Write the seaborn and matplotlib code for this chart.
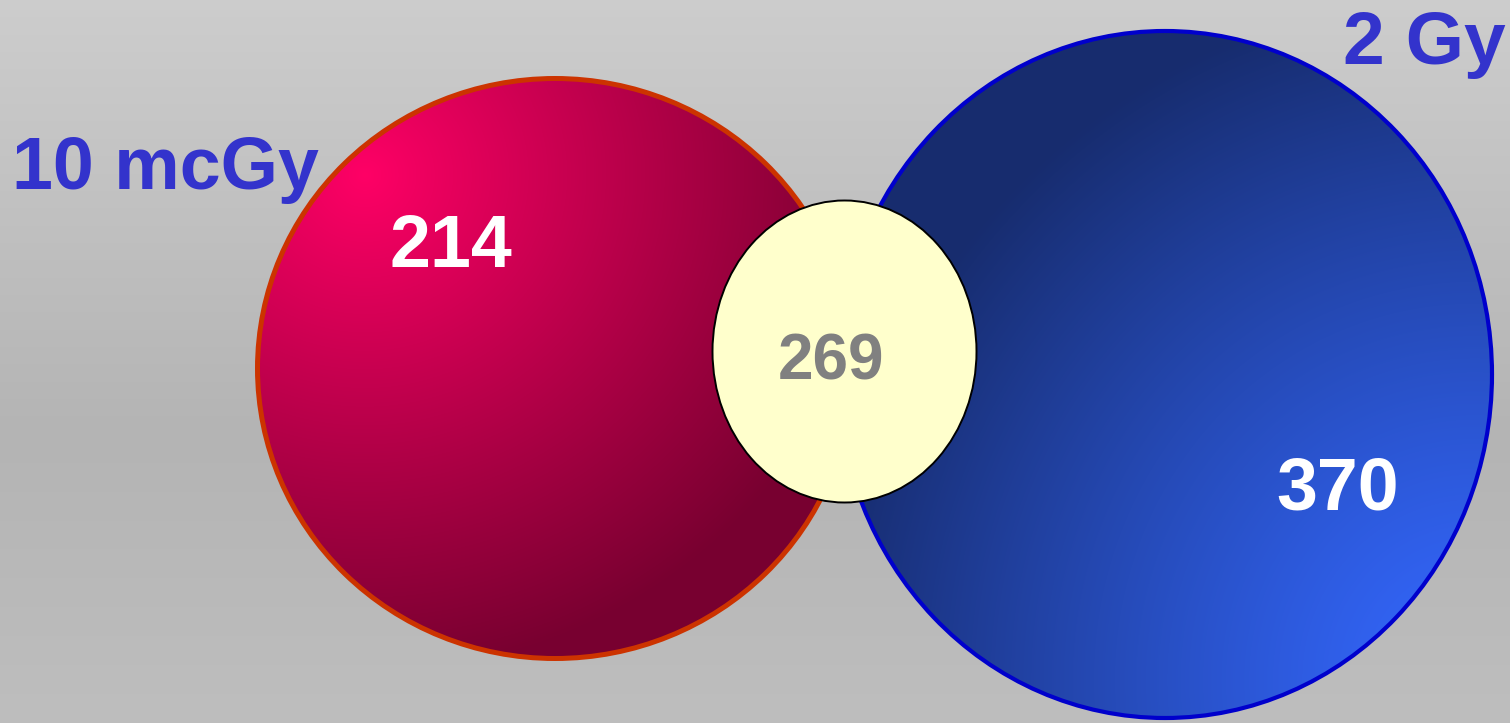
import numpy as np
import matplotlib
matplotlib.use("Agg")
import matplotlib.pyplot as plt
from matplotlib.patches import Ellipse
from matplotlib.colors import to_rgb
import seaborn as sns

# Set labels and overlap counts
set_labels = ["10 mcGy", "2 Gy"]
only_counts = [214, 370]
shared_count = [269]

sns.set_theme(style="white")
plt.rcParams["font.family"] = ["Liberation Sans", "DejaVu Sans"]

W, H = 1510, 723
fig = plt.figure(figsize=(W / 100, H / 100), dpi=100)
ax = fig.add_axes([0, 0, 1, 1])
ax.set_xlim(0, W)
ax.set_ylim(H, 0)
ax.set_axis_off()

yy, xx = np.mgrid[0:H, 0:W] + 0.5


def blend(c0, c1, t):
    c0 = np.array(to_rgb(c0))
    c1 = np.array(to_rgb(c1))
    t = np.clip(t, 0, 1)[..., None]
    return c0 * (1 - t) + c1 * t


# grey backdrop, lighter at the top
ty = yy / H
bg = np.where((ty < 0.6)[..., None],
              blend("#cdcdcd", "#b4b4b4", ty / 0.6),
              blend("#b4b4b4", "#bebebe", (ty - 0.6) / 0.4))
ax.imshow(bg, extent=(0, W, H, 0), zorder=0, interpolation="bilinear")


def gradient_ellipse(center, rx, ry, img, edge, lw, z):
    patch = Ellipse(center, 2 * rx, 2 * ry, facecolor="none",
                    edgecolor=edge, linewidth=lw, zorder=z + 0.5)
    clip = Ellipse(center, 2 * rx, 2 * ry, facecolor="none", edgecolor="none")
    ax.add_patch(clip)
    im = ax.imshow(img, extent=(0, W, H, 0), zorder=z, interpolation="bilinear")
    im.set_clip_path(clip)
    ax.add_patch(patch)


# left set: magenta glow from the upper left, settling to a deep wine
d_red = np.hypot((xx - 365) / 520, (yy - 175) / 500)
red = blend("#ff0066", "#780030", d_red ** 0.95)
gradient_ellipse((555, 368.5), 297.5, 290, red, "#cc3300", 3.6, 2)

# right set: navy, brightening toward the lower right
d_blue = np.hypot((xx - 1475) / 660, (yy - 680) / 690)
blue = blend("#3468ff", "#172c6e", d_blue ** 1.2)
gradient_ellipse((1165, 374.5), 327, 343.5, blue, "#0000cc", 3.0, 3)

# shared region
ax.add_patch(Ellipse((844.5, 351.5), 264, 302, facecolor="#ffffcc",
                     edgecolor="black", linewidth=1.4, zorder=5))

bold = dict(fontweight="bold", va="baseline", zorder=6)
ax.text(12, 189, set_labels[0], color="#3333cc", fontsize=53, ha="left", **bold)
ax.text(1506, 64, set_labels[1], color="#3333cc", fontsize=54, ha="right", **bold)
ax.text(451, 267, str(only_counts[0]), color="white", fontsize=53, ha="center", **bold)
ax.text(1338, 509, str(only_counts[1]), color="white", fontsize=53, ha="center", **bold)
ax.text(831, 379, str(shared_count[0]), color="#808080", fontsize=46, ha="center", **bold)

fig.savefig("out.png", dpi=100)
